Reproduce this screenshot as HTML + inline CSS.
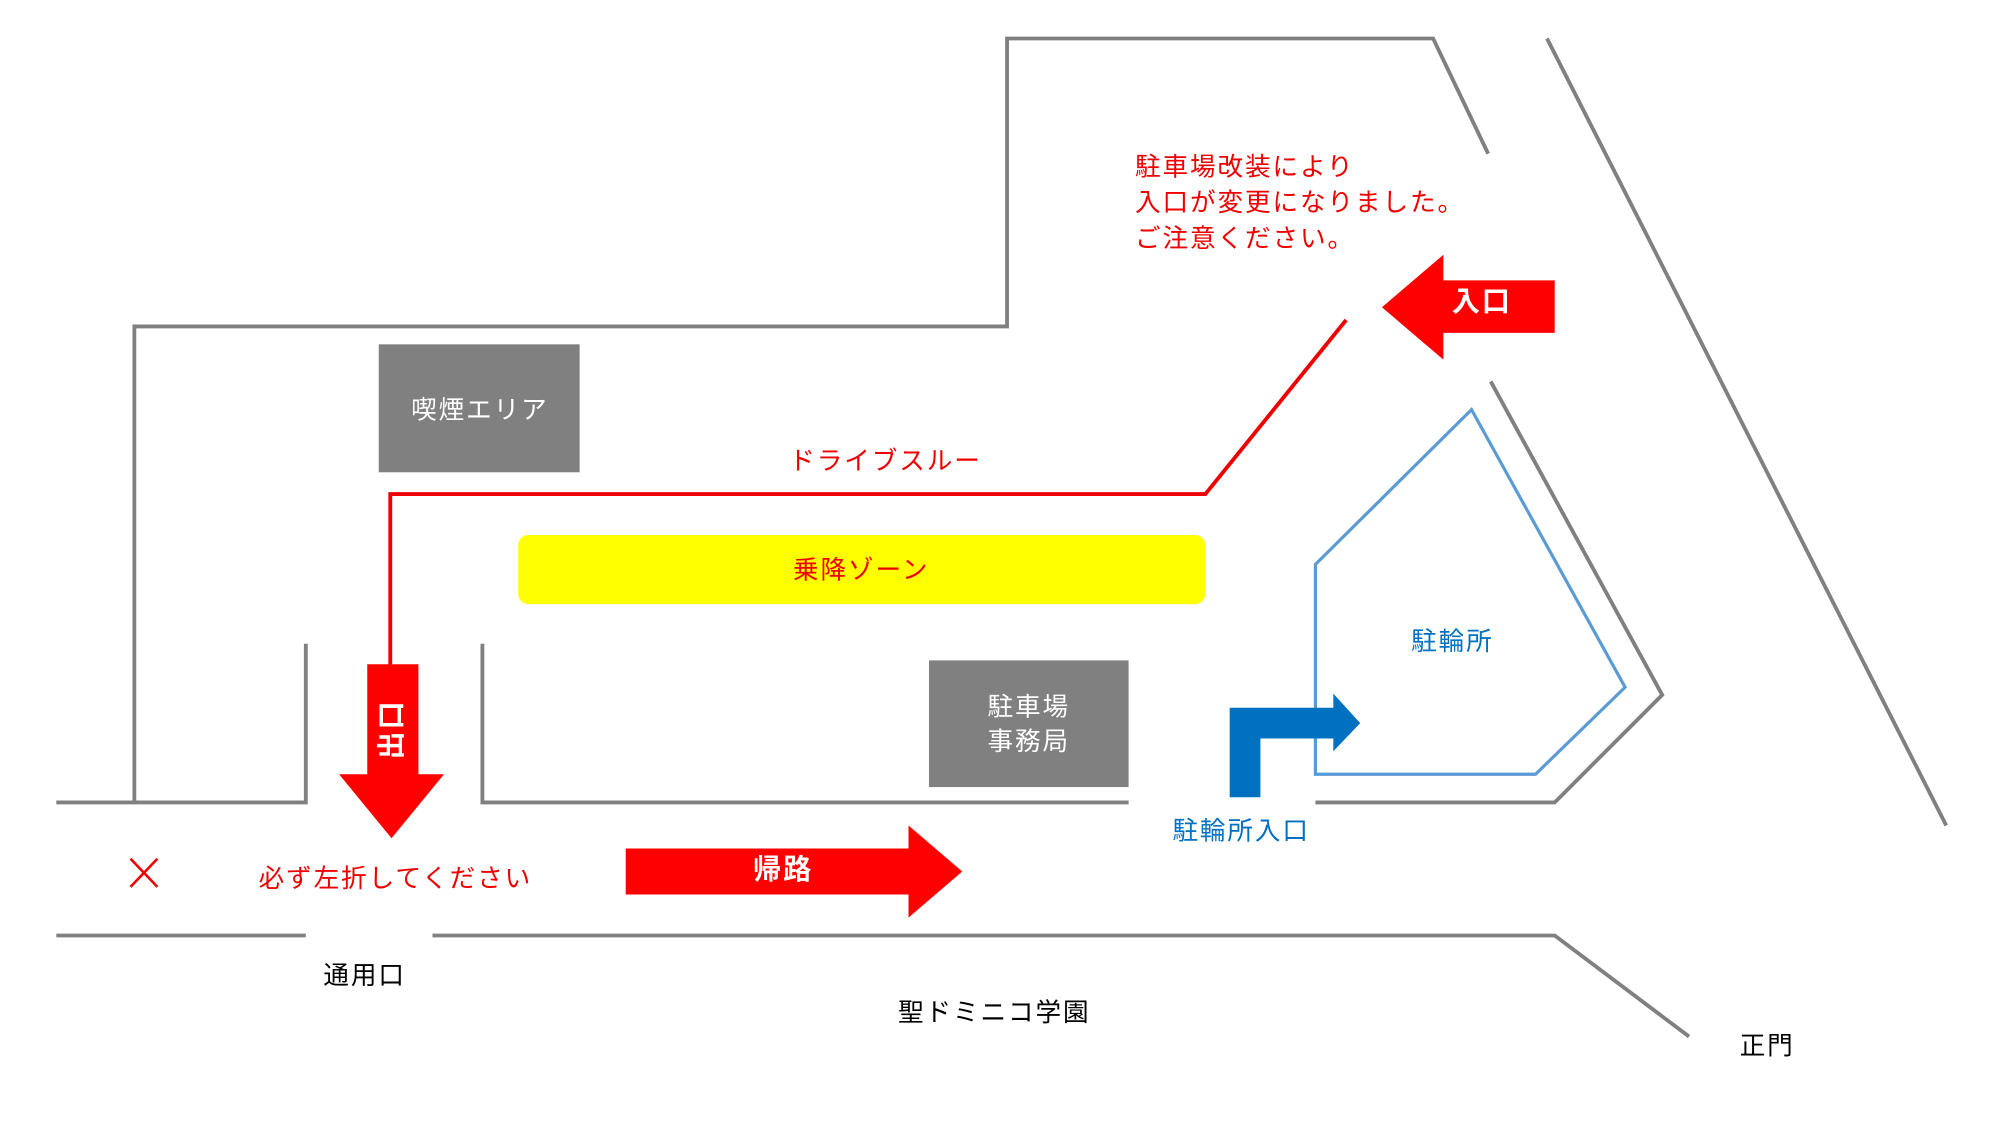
<!DOCTYPE html>
<html><head><meta charset="utf-8"><style>
html,body{margin:0;padding:0;background:#fff;}
svg{display:block;}
text{font-family:"Liberation Sans","Noto Sans CJK JP",sans-serif;letter-spacing:1.5px;}
</style></head><body>
<svg width="2000" height="1125" viewBox="0 0 1563 879" xmlns="http://www.w3.org/2000/svg">
<g fill="none" stroke="#808080" stroke-width="3">
<polyline points="105,627 105,255 787,255 787,30 1120,30 1163,120"/>
<line x1="1209" y1="30" x2="1521" y2="645"/>
<polyline points="1165,298 1299,543 1215,627 1028,627"/>
<polyline points="44,627 239,627 239,503"/>
<polyline points="377,503 377,627 882,627"/>
<line x1="44" y1="731" x2="239" y2="731"/>
<polyline points="338,731 1215,731 1320,810"/>
</g>
<rect x="296" y="269" width="157" height="100" fill="#808080"/>
<text x="375" y="327" font-size="20" fill="#fff" text-anchor="middle">喫煙エリア</text>
<rect x="726" y="516" width="156" height="99" fill="#808080"/>
<text x="804" y="559" font-size="20" fill="#fff" text-anchor="middle">駐車場</text>
<text x="804" y="586" font-size="20" fill="#fff" text-anchor="middle">事務局</text>
<rect x="405" y="418" width="537" height="54" rx="8" fill="#ffff00"/>
<text x="673" y="452" font-size="20" fill="#e00" text-anchor="middle">乗降ゾーン</text>
<polyline points="1052,250 942,386 305,386 305,520" fill="none" stroke="#e00" stroke-width="3"/>
<text x="692" y="367" font-size="20" fill="#e00" text-anchor="middle">ドライブスルー</text>
<polygon points="287,519 327,519 327,605 347,605 306,655 265,605 287,605" fill="#f00"/>
<text transform="translate(306,570) rotate(-90)" font-size="22" font-weight="bold" fill="#fff" text-anchor="middle" dominant-baseline="central">出口</text>
<polygon points="1215,219 1128,219 1128,199 1080,240 1128,281 1128,260 1215,260" fill="#f00"/>
<text x="1158" y="243" font-size="22" font-weight="bold" fill="#fff" text-anchor="middle">入口</text>
<polygon points="489,663 710,663 710,645 752,681 710,717 710,699 489,699" fill="#f00"/>
<text x="612" y="687" font-size="22" font-weight="bold" fill="#fff" text-anchor="middle">帰路</text>
<polygon points="1150,320 1270,537 1200,605 1028,605 1028,441" fill="none" stroke="#5b9bd5" stroke-width="2.5"/>
<polygon points="961,623 985,623 985,577 1042,577 1042,587 1063,565 1042,542 1042,553 961,553" fill="#0070c0"/>
<text x="1135" y="508" font-size="20" fill="#0070c0" text-anchor="middle">駐輪所</text>
<text x="970" y="656" font-size="20" fill="#0070c0" text-anchor="middle">駐輪所入口</text>
<g font-size="20" fill="#e00">
<text x="887" y="137">駐車場改装により</text>
<text x="887" y="165">入口が変更になりました。</text>
<text x="887" y="193">ご注意ください。</text>
<text x="309" y="693" text-anchor="middle">必ず左折してください</text>
</g>
<g stroke="#e00" stroke-width="2"><line x1="102" y1="671" x2="123" y2="693"/><line x1="123" y1="671" x2="102" y2="693"/></g>
<g font-size="20" fill="#000" text-anchor="middle">
<text x="285" y="769">通用口</text>
<text x="777" y="798">聖ドミニコ学園</text>
<text x="1381" y="824">正門</text>
</g>
</svg>
</body></html>
